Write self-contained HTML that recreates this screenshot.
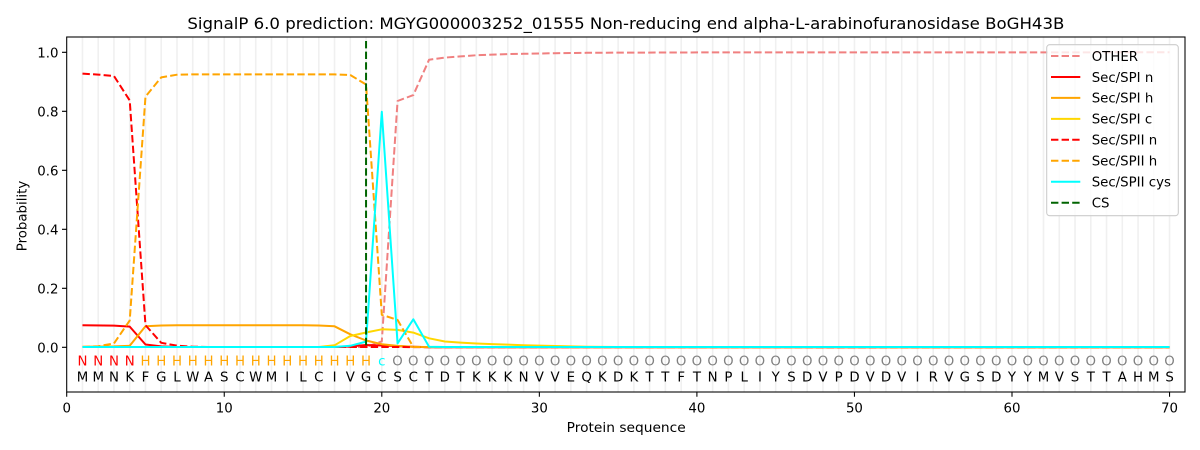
<!DOCTYPE html>
<html><head><meta charset="utf-8"><style>
html,body{margin:0;padding:0;background:#fff;}
svg{display:block;font-family:"DejaVu Sans","Liberation Sans",sans-serif;}
</style></head><body>
<svg width="1200" height="450" viewBox="0 0 1200 450" xmlns="http://www.w3.org/2000/svg">
<rect x="0" y="0" width="1200" height="450" fill="#fff"/>
<!-- grid lines -->
<g stroke="#f0f0f0" stroke-width="1.6">
<path d="M82.46 37V392M98.21 37V392M113.97 37V392M129.72 37V392M145.48 37V392M161.23 37V392M176.99 37V392M192.74 37V392M208.5 37V392M224.25 37V392M240.01 37V392M255.76 37V392M271.52 37V392M287.27 37V392M303.03 37V392M318.78 37V392M334.54 37V392M350.29 37V392M366.05 37V392M381.8 37V392M397.56 37V392M413.31 37V392M429.07 37V392M444.82 37V392M460.58 37V392M476.33 37V392M492.09 37V392M507.84 37V392M523.6 37V392M539.35 37V392M555.11 37V392M570.86 37V392M586.62 37V392M602.37 37V392M618.13 37V392M633.88 37V392M649.64 37V392M665.39 37V392M681.15 37V392M696.9 37V392M712.66 37V392M728.41 37V392M744.17 37V392M759.92 37V392M775.68 37V392M791.43 37V392M807.19 37V392M822.94 37V392M838.7 37V392M854.45 37V392M870.21 37V392M885.96 37V392M901.72 37V392M917.47 37V392M933.23 37V392M948.98 37V392M964.74 37V392M980.49 37V392M996.25 37V392M1012 37V392M1027.76 37V392M1043.51 37V392M1059.27 37V392M1075.02 37V392M1090.78 37V392M1106.53 37V392M1122.29 37V392M1138.04 37V392M1153.8 37V392M1169.55 37V392"/>
</g>
<!-- series -->
<g fill="none" stroke-width="2" stroke-linejoin="round">
<polyline stroke="#f08080" stroke-dasharray="7.4,3.2" points="82.46,347 366.05,347 381.8,341.4 397.56,101 413.31,95.1 429.07,59.7 444.82,57.6 460.58,56.4 476.33,55.25 492.09,54.6 507.84,54.1 523.6,53.8 539.35,53.5 555.11,53.2 570.86,53 586.62,52.8 602.37,52.7 633.88,52.6 712.66,52.4 1169.55,52.3"/>
<polyline stroke="#ff0000" points="82.46,325.3 113.97,325.6 129.72,326.6 145.48,344.5 161.23,346.4 176.99,347 334.54,347 350.29,346.4 366.05,345 381.8,345.5 397.56,346.1 413.31,346.7 429.07,347.3 1169.55,347.3"/>
<polyline stroke="#ffa500" points="82.46,346.7 113.97,346.4 129.72,345.8 145.48,326.3 161.23,325.5 176.99,325.3 303.03,325.3 318.78,325.5 334.54,326.3 350.29,334.3 366.05,340.5 381.8,344.2 397.56,345.9 413.31,346.8 429.07,347.1 1169.55,347.3"/>
<polyline stroke="#ffd700" points="82.46,347 318.78,347 334.54,345.3 350.29,336 366.05,332.5 381.8,329.3 397.56,329.9 413.31,332.6 429.07,338.3 444.82,341.5 460.58,342.6 476.33,343.5 492.09,344.1 507.84,344.6 523.6,345.2 539.35,345.6 555.11,346 570.86,346.4 586.62,346.7 618.13,347 1169.55,347"/>
<polyline stroke="#ff0000" stroke-dasharray="7.4,3.2" points="82.46,73.6 98.21,74.6 113.97,76 129.72,100.5 145.48,325.2 161.23,342.8 176.99,345.7 192.74,346.7 208.5,347 1169.55,347.3"/>
<polyline stroke="#ffa500" stroke-dasharray="7.4,3.2" points="82.46,347 98.21,346.2 113.97,343.5 129.72,320.5 145.48,96.6 161.23,77.4 176.99,74.7 192.74,74.4 334.54,74.4 350.29,75 366.05,84.5 381.8,314.8 397.56,319.9 413.31,347 1169.55,347.3"/>
<polyline stroke="#00ffff" points="82.46,347 334.54,347 350.29,345.8 366.05,341.6 381.8,111.8 397.56,343.4 413.31,319.3 429.07,346.8 444.82,347 1169.55,347"/>
<line x1="366.05" y1="41" x2="366.05" y2="347.3" stroke="#006400" stroke-dasharray="7.4,3.2"/>
</g>
<!-- sequence labels -->
<g font-size="13.33px" text-anchor="middle">
<text y="365.7" fill="#ff0000" x="82.46 98.21 113.97 129.72">NNNN</text>
<text y="365.7" fill="#ffa500" x="145.48 161.23 176.99 192.74 208.5 224.25 240.01 255.76 271.52 287.27 303.03 318.78 334.54 350.29 366.05">HHHHHHHHHHHHHHH</text>
<text y="365.7" fill="#00ffff" x="381.8">c</text>
<text y="365.7" fill="#808080" x="397.56 413.31 429.07 444.82 460.58 476.33 492.09 507.84 523.6 539.35 555.11 570.86 586.62 602.37 618.13 633.88 649.64 665.39 681.15 696.9 712.66 728.41 744.17 759.92 775.68 791.43 807.19 822.94 838.7 854.45 870.21 885.96 901.72 917.47 933.23 948.98 964.74 980.49 996.25 1012 1027.76 1043.51 1059.27 1075.02 1090.78 1106.53 1122.29 1138.04 1153.8 1169.55">OOOOOOOOOOOOOOOOOOOOOOOOOOOOOOOOOOOOOOOOOOOOOOOOOO</text>
<text y="381.7" fill="#000" x="82.46 98.21 113.97 129.72 145.48 161.23 176.99 192.74 208.5 224.25 240.01 255.76 271.52 287.27 303.03 318.78 334.54 350.29 366.05 381.8 397.56 413.31 429.07 444.82 460.58 476.33 492.09 507.84 523.6 539.35 555.11 570.86 586.62 602.37 618.13 633.88 649.64 665.39 681.15 696.9 712.66 728.41 744.17 759.92 775.68 791.43 807.19 822.94 838.7 854.45 870.21 885.96 901.72 917.47 933.23 948.98 964.74 980.49 996.25 1012 1027.76 1043.51 1059.27 1075.02 1090.78 1106.53 1122.29 1138.04 1153.8 1169.55">MMNKFGLWASCWMILCIVGCSCTDTKKKNVVEQKDKTTFTNPLIYSDVPDVDVIRVGSDYYMVSTTAHMS</text>
</g>
<!-- axes frame -->
<rect x="66.7" y="37" width="1118.3" height="355" fill="none" stroke="#000" stroke-width="1.07"/>
<!-- ticks -->
<g stroke="#000" stroke-width="1.07">
<path d="M62 347.3H66.7M62 288.3H66.7M62 229.3H66.7M62 170.3H66.7M62 111.3H66.7M62 52.3H66.7"/>
<path d="M66.7 392V396.7M224.25 392V396.7M381.8 392V396.7M539.35 392V396.7M696.9 392V396.7M854.45 392V396.7M1012 392V396.7M1169.55 392V396.7"/>
</g>
<g font-size="13.33px" fill="#000" text-anchor="end">
<text x="58.5" y="352.3">0.0</text>
<text x="58.5" y="293.3">0.2</text>
<text x="58.5" y="234.3">0.4</text>
<text x="58.5" y="175.3">0.6</text>
<text x="58.5" y="116.3">0.8</text>
<text x="58.5" y="57.3">1.0</text>
</g>
<g font-size="13.33px" fill="#000" text-anchor="middle">
<text x="66.7" y="412.7">0</text>
<text x="224.25" y="412.7">10</text>
<text x="381.8" y="412.7">20</text>
<text x="539.35" y="412.7">30</text>
<text x="696.9" y="412.7">40</text>
<text x="854.45" y="412.7">50</text>
<text x="1012" y="412.7">60</text>
<text x="1169.55" y="412.7">70</text>
<text x="626.2" y="432" textLength="119" lengthAdjust="spacingAndGlyphs">Protein sequence</text>
<text transform="translate(26.3,216) rotate(-90)">Probability</text>
</g>
<text x="625.9" y="29" font-size="16px" text-anchor="middle" fill="#000" textLength="877" lengthAdjust="spacingAndGlyphs">SignalP 6.0 prediction: MGYG000003252_01555 Non-reducing end alpha-L-arabinofuranosidase BoGH43B</text>
<!-- legend -->
<rect x="1046.7" y="44.7" width="131.6" height="171" rx="3" fill="#fff" fill-opacity="0.8" stroke="#cccccc" stroke-width="1.07"/>
<g fill="none" stroke-width="2">
<line x1="1051" y1="56" x2="1080.3" y2="56" stroke="#f08080" stroke-dasharray="7.4,3.2"/>
<line x1="1051" y1="77" x2="1080.3" y2="77" stroke="#ff0000"/>
<line x1="1051" y1="97.9" x2="1080.3" y2="97.9" stroke="#ffa500"/>
<line x1="1051" y1="118.9" x2="1080.3" y2="118.9" stroke="#ffd700"/>
<line x1="1051" y1="139.8" x2="1080.3" y2="139.8" stroke="#ff0000" stroke-dasharray="7.4,3.2"/>
<line x1="1051" y1="160.8" x2="1080.3" y2="160.8" stroke="#ffa500" stroke-dasharray="7.4,3.2"/>
<line x1="1051" y1="181.8" x2="1080.3" y2="181.8" stroke="#00ffff"/>
<line x1="1051" y1="202.7" x2="1080.3" y2="202.7" stroke="#006400" stroke-dasharray="7.4,3.2"/>
</g>
<g font-size="13.33px" fill="#000">
<text x="1091.7" y="60.8">OTHER</text>
<text x="1091.7" y="81.8">Sec/SPI n</text>
<text x="1091.7" y="102.7">Sec/SPI h</text>
<text x="1091.7" y="123.7">Sec/SPI c</text>
<text x="1091.7" y="144.6">Sec/SPII n</text>
<text x="1091.7" y="165.6">Sec/SPII h</text>
<text x="1091.7" y="186.6">Sec/SPII cys</text>
<text x="1091.7" y="207.5">CS</text>
</g>
</svg>
</body></html>
